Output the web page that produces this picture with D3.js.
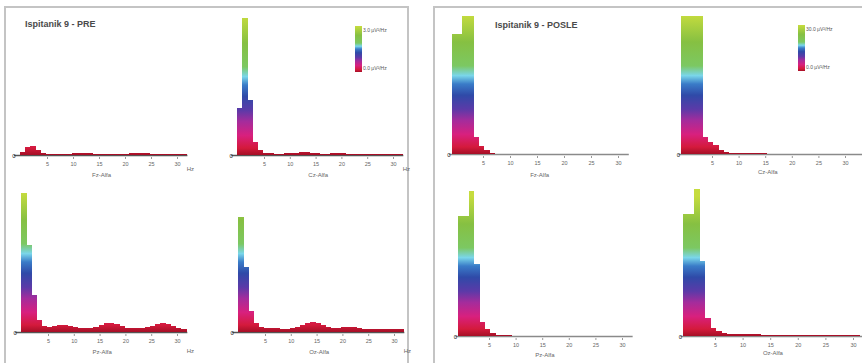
<!DOCTYPE html>
<html><head><meta charset="utf-8">
<script src="https://cdn.jsdelivr.net/npm/d3@7"></script>
<style>
html,body{margin:0;padding:0;background:#fff;}
svg{display:block;font-family:"Liberation Sans",Arial,sans-serif;}
</style></head>
<body><svg id="chart" width="862" height="363"></svg>
<script>
// ---------- DATA ----------
const bins = [0,1,2,3,4,5,6,7,8,9,10,11,12,13,14,15,16,17,18,19,20,21,22,23,24,25,26,27,28,29,30,31];
const tickValues = [5,10,15,20,25,30];
const tickLabels = ["5","10","15","20","25","30"];
const panelTitles = ["Ispitanik 9 - PRE","Ispitanik 9 - POSLE"];
const axisTitles = ["Fz-Alfa","Cz-Alfa","Pz-Alfa","Oz-Alfa"];
const legendLabelsPre = ["3.0 µV²/Hz","0.0 µV²/Hz"];
const legendLabelsPost = ["30.0 µV²/Hz","0.0 µV²/Hz"];
const yMaxPre = 3.0;
const yMaxPost = 30.0;

// PRE (µV²/Hz)
const preTL = [0.06,0.17,0.19,0.11,0.04,0.02,0.02,0.02,0.02,0.03,0.04,0.05,0.05,0.04,0.03,0.02,0.02,0.02,0.02,0.02,0.03,0.04,0.05,0.05,0.04,0.03,0.02,0.02,0.02,0.02,0.02,0.02];
const preTR = [1.01,2.94,1.18,0.28,0.11,0.04,0.04,0.03,0.03,0.04,0.04,0.05,0.06,0.06,0.05,0.04,0.03,0.03,0.04,0.04,0.04,0.03,0.03,0.02,0.02,0.02,0.02,0.02,0.02,0.02,0.02,0.02];
const preBL = [2.98,1.86,0.79,0.26,0.13,0.11,0.13,0.15,0.15,0.13,0.11,0.09,0.09,0.09,0.11,0.15,0.19,0.19,0.17,0.13,0.09,0.09,0.09,0.09,0.11,0.13,0.17,0.19,0.17,0.13,0.09,0.06];
const preBR = [2.46,1.39,0.45,0.19,0.11,0.09,0.09,0.09,0.06,0.06,0.09,0.11,0.15,0.19,0.21,0.19,0.15,0.11,0.09,0.09,0.11,0.11,0.11,0.09,0.06,0.06,0.06,0.06,0.06,0.06,0.06,0.06];
// POSLE (µV²/Hz)
const postTL = [25.7,25.7,29.6,29.6,3.6,1.7,0.9,0.2,0.1,0.1,0.1,0.1,0.1,0.1,0.1,0.1,0.1,0.1,0.1,0.1,0.1,0.1,0.1,0.1,0.1,0.1,0.1,0.1,0.1,0.1,0.1,0.1];
const postTR = [29.6,29.6,29.6,29.6,3.6,2.6,1.9,0.9,0.4,0.3,0.3,0.2,0.2,0.2,0.2,0.2,0.1,0.1,0.1,0.1,0.1,0.1,0.1,0.1,0.1,0.1,0.1,0.1,0.1,0.1,0.1,0.1];
const postBL = [25.7,25.7,31.1,15.4,3.0,1.5,0.6,0.3,0.2,0.2,0.1,0.1,0.1,0.1,0.1,0.1,0.1,0.1,0.1,0.1,0.1,0.1,0.1,0.1,0.1,0.1,0.1,0.1,0.1,0.1,0.1,0.1];
const postBR = [26.1,26.1,31.5,16.1,3.9,1.7,1.1,0.6,0.4,0.4,0.4,0.4,0.4,0.4,0.2,0.2,0.2,0.2,0.2,0.2,0.2,0.2,0.2,0.2,0.2,0.2,0.2,0.2,0.2,0.2,0.2,0.2];

// ---------- LAYOUT ----------
const svg = d3.select("#chart");
const plotH = 140;
const subplots = [
  {data:preTL,  yMax:yMaxPre,  x0:21,    w:5.2,  base:155, shift:-0.2, end:32, title:axisTitles[0], hz:true, tOff:22},
  {data:preTR,  yMax:yMaxPre,  x0:238.2, w:5.16, base:155, shift:-0.2, end:32, title:axisTitles[1], hz:true, tOff:22, legend:legendLabelsPre, lx:355, ly:26},
  {data:preBL,  yMax:yMaxPre,  x0:22.2,  w:5.16, base:332, shift:-0.2, end:32, title:axisTitles[2], hz:true, tOff:22},
  {data:preBR,  yMax:yMaxPre,  x0:239.2, w:5.16, base:332, shift:-0.2, end:32, title:axisTitles[3], hz:true, tOff:22},
  {data:postTL, yMax:yMaxPost, x0:456,   w:5.4,  base:154, shift:-0.8, end:32, title:axisTitles[0], hz:false, tOff:23},
  {data:postTR, yMax:yMaxPost, x0:685.4, w:5.32, base:154, shift:-0.8, end:33.5, title:axisTitles[1], hz:false, tOff:20, legend:legendLabelsPost, lx:798, ly:25},
  {data:postBL, yMax:yMaxPost, x0:462.4, w:5.32, base:336, shift:-0.8, end:32, title:axisTitles[2], hz:false, tOff:21},
  {data:postBR, yMax:yMaxPost, x0:687.4, w:5.52, base:336, shift:-0.8, end:32, title:axisTitles[3], hz:false, tOff:19}
];

const stops = [
  [0,"#a50f26"],[0.05,"#d41a3c"],[0.14,"#d8207e"],[0.24,"#a42c9c"],[0.32,"#5b3aa8"],
  [0.42,"#2f4aa8"],[0.5,"#3a7cc8"],[0.56,"#7ad6ea"],[0.63,"#7cc862"],[0.8,"#86c042"],[1,"#c6dc3e"]
];
const defs = svg.append("defs");

// panel frames
const frame = svg.append("g").attr("fill","none");
frame.append("path").attr("d","M5,363 V7 H408 V363").attr("stroke","#c4c4c4").attr("stroke-width",2);
frame.append("path").attr("d","M434,363 V7 H862").attr("stroke","#c4c4c4").attr("stroke-width",2);

// titles
svg.append("text").attr("x",25).attr("y",27).attr("font-size",9).attr("font-weight","bold").attr("fill","#4a4a4a").text(panelTitles[0]);
svg.append("text").attr("x",495).attr("y",28).attr("font-size",9).attr("font-weight","bold").attr("fill","#4a4a4a").text(panelTitles[1]);

subplots.forEach((s,k)=>{
  const x = d3.scaleLinear().domain([0, s.end]).range([s.x0, s.x0 + s.end*s.w]);
  const y = d3.scaleLinear().domain([0, s.yMax]).range([s.base, s.base - plotH]);
  const gid = "grad"+k;
  const gr = defs.append("linearGradient").attr("id",gid).attr("gradientUnits","userSpaceOnUse")
    .attr("x1",0).attr("x2",0).attr("y1",y(0)).attr("y2",y(s.yMax));
  gr.selectAll("stop").data(stops).join("stop").attr("offset",d=>d[0]).attr("stop-color",d=>d[1]);

  const g = svg.append("g");
  // baseline
  g.append("line").attr("x1",s.x0-7).attr("x2",Math.min(862,x(s.end))).attr("y1",s.base+0.5).attr("y2",s.base+0.5)
    .attr("stroke", k<4 ? "#555" : "#8a8a8a").attr("stroke-width",1.4);
  // bars
  g.selectAll("rect").data(bins).join("rect")
    .attr("x",i=>x(i+s.shift)).attr("width",i=>x(i+1+s.shift)-x(i+s.shift)+0.3)
    .attr("y",i=>y(s.data[i])).attr("height",i=>y(0)-y(s.data[i]))
    .attr("fill","url(#"+gid+")").attr("shape-rendering","crispEdges");
  // zero marker
  g.append("text").attr("x",s.x0-7).attr("y",s.base+2.5).attr("font-size",6).attr("text-anchor","middle").attr("fill","#222").text("0");
  // x axis ticks
  const ax = d3.axisBottom(x).tickValues(tickValues).tickFormat((d,i)=>tickLabels[i]).tickSize(2).tickPadding(3);
  const axg = g.append("g").attr("transform",`translate(0,${s.base+2})`).call(ax);
  axg.select(".domain").remove();
  axg.selectAll("line").attr("stroke","#999");
  axg.selectAll("text").attr("font-size",5.5).attr("fill","#666").attr("font-family","Liberation Sans, Arial, sans-serif");
  // axis title
  g.append("text").attr("x",x(15.5)).attr("y",s.base+s.tOff).attr("text-anchor","middle").attr("font-size",6).attr("fill","#666").text(s.title);
  if(s.hz){
    g.append("text").attr("x",x(s.end)+3).attr("y",s.base+(k<2?16:21)).attr("text-anchor","middle").attr("font-size",6).attr("fill","#666").text("Hz");
  }
  // legend
  if(s.legend){
    const lg = svg.append("g");
    const lid = "lgrad"+k;
    const lgr = defs.append("linearGradient").attr("id",lid).attr("x1",0).attr("x2",0).attr("y1",1).attr("y2",0);
    lgr.selectAll("stop").data(stops).join("stop").attr("offset",d=>d[0]).attr("stop-color",d=>d[1]);
    lg.append("rect").attr("x",s.lx).attr("y",s.ly).attr("width",7).attr("height",46).attr("fill","url(#"+lid+")");
    lg.append("text").attr("x",s.lx+8).attr("y",s.ly+6).attr("font-size",5).attr("fill","#555").text(s.legend[0]);
    lg.append("text").attr("x",s.lx+8).attr("y",s.ly+44).attr("font-size",5).attr("fill","#555").text(s.legend[1]);
  }
});
</script>
</body></html>
